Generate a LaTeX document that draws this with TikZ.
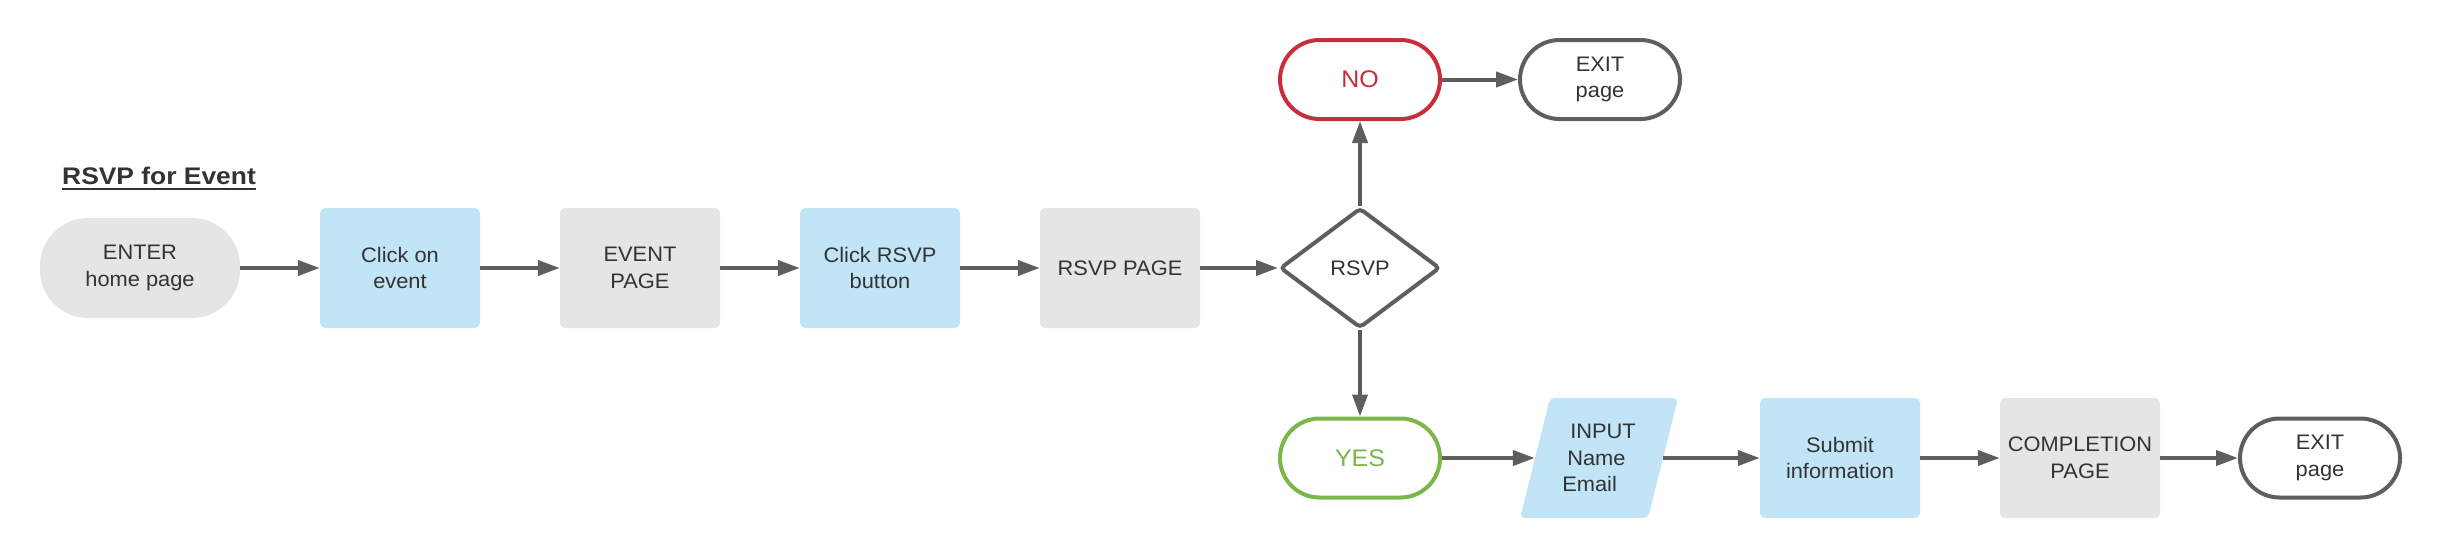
\documentclass[tikz,border=0pt]{standalone}
\usepackage{fontspec}
\setmainfont{Liberation Sans}
\newfontfamily\bodyf[FakeStretch=1.04]{Liberation Sans}
\newfontfamily\titlef[FakeStretch=1.1]{Liberation Sans}
\usetikzlibrary{arrows.meta,shapes.geometric}
\definecolor{lgray}{HTML}{E5E5E5}
\definecolor{lblue}{HTML}{C1E4F7}
\definecolor{edgec}{HTML}{5E5E5E}
\definecolor{txt}{HTML}{333333}
\definecolor{nored}{HTML}{C92D39}
\definecolor{yesgreen}{HTML}{7AB648}
\newcommand\ulrsvp[1]{\setbox0\hbox{#1}\rlap{\rule[-6pt]{\wd0}{2.3pt}}\box0}
\begin{document}
\begin{tikzpicture}[x=1pt,y=-1pt,
  every node/.style={font=\bodyf\fontsize{21}{26.7}\selectfont, text=txt, align=center, inner sep=0pt},
  gbox/.style={fill=lgray, rounded corners=5pt, minimum width=160pt, minimum height=120pt},
  bbox/.style={fill=lblue, rounded corners=5pt, minimum width=160pt, minimum height=120pt},
  term/.style={draw=edgec, line width=4pt, fill=white, rounded corners=39.5pt, minimum width=160pt, minimum height=79pt},
  bigtxt/.style={font=\bodyf\fontsize{24}{28}\selectfont},
  flow/.style={draw=edgec, line width=4pt, -{Triangle[length=22pt 0 0, width=15pt 0 0]}},
]
\useasboundingbox (0,0) rectangle (2440,558);
\fill[white] (0,0) rectangle (2440,558);

\node[anchor=base west, text=txt, font=\titlef\bfseries\fontsize{24}{28}\selectfont] (title) at (62,184) {\ulrsvp{RSVP for Event}};

\node[gbox, minimum width=200pt, minimum height=100pt, rounded corners=48pt] (enter) at (140,268) {ENTER\\home page};
\node[bbox] (click) at (400,268) {Click on\\event};
\node[gbox] (event) at (640,268) {EVENT\\PAGE};
\node[bbox] (crsvp) at (880,268) {Click RSVP\\button};
\node[gbox] (rpage) at (1120,268) {RSVP PAGE};
\node[draw=edgec, line width=4pt, shape=diamond, aspect=1.33, minimum width=160pt, minimum height=120pt, rounded corners=4pt] (dec) at (1360,268) {RSVP};

\node[term, draw=nored, text=nored, bigtxt] (no) at (1360,79.5) {NO};
\node[term] (exit1) at (1600,79.5) {EXIT\\page};
\node[term, draw=yesgreen, text=yesgreen, bigtxt] (yes) at (1360,458) {YES};

\fill[lblue, rounded corners=5pt, shift={(1599,458)}] (-49,-60) -- (79,-60) -- (49,60) -- (-79,60) -- cycle;
\node[minimum width=128pt, minimum height=120pt, align=left] (input) at (1599,458) {\hspace*{8pt}INPUT\\\hspace*{5pt}Name\\Email};
\node[bbox] (submit) at (1840,458) {Submit\\information};
\node[gbox] (comp) at (2080,458) {COMPLETION\\PAGE};
\node[term] (exit2) at (2320,458) {EXIT\\page};

\draw[flow] (enter.east) -- (click.west);
\draw[flow] (click.east) -- (event.west);
\draw[flow] (event.east) -- (crsvp.west);
\draw[flow] (crsvp.east) -- (rpage.west);
\draw[flow] (rpage.east) -- (dec.west);
\draw[flow] (dec.north) -- (no.south);
\draw[flow] (no.east) -- (exit1.west);
\draw[flow] (dec.south) -- (yes.north);
\draw[flow] (yes.east) -- (input.west);
\draw[flow] (input.east) -- (submit.west);
\draw[flow] (submit.east) -- (comp.west);
\draw[flow] (comp.east) -- (exit2.west);
\end{tikzpicture}
\end{document}
